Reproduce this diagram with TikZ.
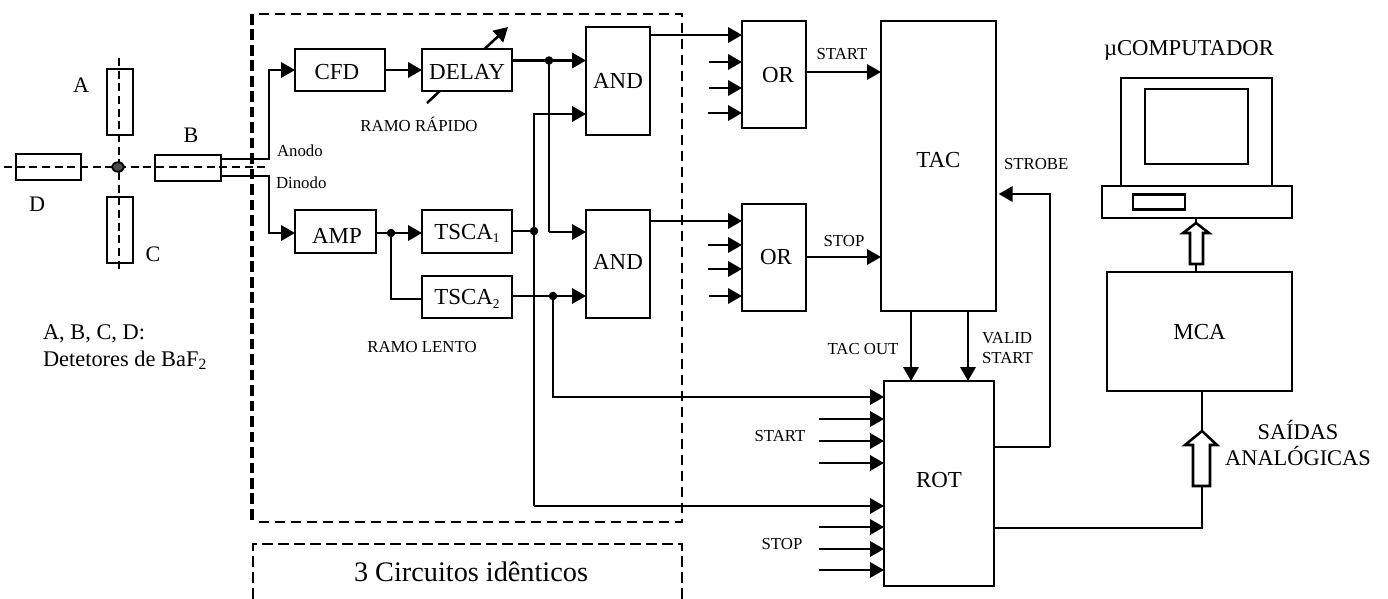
\documentclass[tikz,border=0pt]{standalone}
\usepackage{fontspec}
\setmainfont{Liberation Serif}
\usetikzlibrary{arrows.meta,calc,shapes.geometric}
\newcommand\mybox[8]{%
  \pgfmathsetmacro\myHa{max(#6,0)*1.5}%
  \pgfmathsetmacro\myHb{max(-(#6),0)*1.5}%
  \pgfmathsetmacro\myTh{11.4+max(#7,0)*1.5}%
  \pgfmathsetmacro\myTd{max(-(#7),0)*1.5}%
  \node[bloc,minimum width={(#4-#2)*0.75pt},minimum height={(#5-#3)*0.75pt},
        text height=\myTh pt,text depth=\myTd pt] (#1) at ({(#2+#4)/2},{(#3+#5)/2})
        {\hspace*{\myHa pt}#8\hspace*{\myHb pt}};}
\newcommand\mysub[1]{\raisebox{-2.6pt}{\fontsize{10}{10}\selectfont #1}}
\tikzset{
  bigfont/.style={font=\fontsize{17.2}{20}\selectfont},
  midfont/.style={font=\fontsize{16.6}{20}\selectfont},
  smallfont/.style={font=\fontsize{12.6}{15}\selectfont},
  bloc/.style={draw,line width=1.8pt,fill=white,inner sep=0pt,outer sep=0pt,bigfont,line join=miter},
  wire/.style={line width=1.9pt},
  arrowwire/.style={wire,-{Triangle[length=10.5pt,width=11.5pt]}},
  dot/.style={fill=black},
  frame/.style={line width=1.6pt,dash pattern=on 7.5pt off 4.5pt},
  frameleft/.style={line width=2.3pt,dash pattern=on 8pt off 3.6pt},
  thinframe/.style={line width=1.1pt,dash pattern=on 8pt off 4pt},
  axis/.style={line width=1.5pt,dash pattern=on 6pt off 3.5pt},
  txt/.style={inner sep=0pt,outer sep=0pt},
}
\begin{document}
\begin{tikzpicture}[x=0.75pt,y=-0.75pt]
\useasboundingbox (0,0) rectangle (1388,599);
% dashed frames
\draw[frame] (259,14) -- (682,14) -- (682,522) -- (259,522);
\draw[frameleft] (252,14) -- (252,522);
\draw[thinframe] (253,599) -- (253,544) -- (682,544) -- (682,599);
% named coordinates
\coordinate (axT) at (119,58); \coordinate (axB) at (119,273);
\coordinate (axL) at (4,167.5); \coordinate (axR) at (270,167.5);
\coordinate (aS) at (221,159); \coordinate (aK) at (269,159);
\coordinate (dS) at (221,176); \coordinate (dK) at (269,176);
\coordinate (dlA) at (427,103); \coordinate (dlB) at (508,27);
\draw[arrowwire] (dlA) -- (dlB);
% detectors
\mybox{detA}{107}{69}{133}{135}{0}{0}{}
\mybox{detC}{107}{197}{133}{263}{0}{0}{}
\mybox{detD}{16}{154}{81}{180}{0}{0}{}
\mybox{detB}{155}{155}{221}{181}{0}{0}{}
\draw[axis] (axT) -- (axB);
\draw[axis] (axL) -- (axR);
\node[draw=black,fill=black!70,line width=1.4pt,ellipse,minimum width=9pt,minimum height=7pt,inner sep=0pt] (src) at (118,167) {};
% blocks
\mybox{cfd}{295}{49}{385}{91}{-3}{2}{CFD}
\mybox{delay}{422}{49}{512}{91}{0}{2}{DELAY}
\mybox{and1}{586}{27}{650}{135}{0}{0}{AND}
\mybox{and2}{586}{210}{650}{318}{0}{-2}{AND}
\mybox{amp}{295}{210}{376}{253}{1.5}{4.5}{AMP}
\mybox{tsca1}{422}{210}{512}{253}{0}{0}{TSCA\mysub{1}}
\mybox{tsca2}{422}{276}{512}{318}{0}{0}{TSCA\mysub{2}}
\mybox{or1}{742}{21}{806}{128}{4}{0}{OR}
\mybox{or2}{742}{204}{806}{311}{2}{-1}{OR}
\mybox{tac}{881}{21}{996}{311}{0}{-6}{TAC}
\mybox{rot}{884}{381}{994}{586}{0}{-4}{ROT}
\mybox{mca}{1107}{272}{1292}{391}{0}{0}{MCA}
\mybox{monitor}{1121}{78}{1272}{186}{0}{0}{}
\mybox{screen}{1145}{89}{1248}{164}{0}{0}{}
\mybox{base}{1102}{186}{1292}{218}{0}{0}{}
\mybox{slot}{1133}{196}{1185}{208}{0}{0}{}
% junctions
\coordinate (dOut) at (512,60.5); \coordinate (j1) at (549,60.5);
\coordinate (j1b) at (549,232);
\coordinate (t1Out) at (512,231); \coordinate (j2) at (534,231);
\coordinate (k2top) at (534,114); \coordinate (k2bot) at (534,506);
\coordinate (t2Out) at (512,296); \coordinate (j3) at (553,296); \coordinate (k3bot) at (553,397);
\coordinate (ampOut) at (376,233); \coordinate (j4) at (391,233); \coordinate (k4) at (391,299);
\coordinate (a1o) at (650,35); \coordinate (a2o) at (650,221);
\coordinate (o1o) at (806,72); \coordinate (o2o) at (806,257);
\coordinate (tOut) at (911,311); \coordinate (tVal) at (968,311);
\coordinate (rA) at (994,447); \coordinate (rK) at (1050,447); \coordinate (rK2) at (1050,194);
\coordinate (rB) at (994,528); \coordinate (rK3) at (1202,528);
% connectors
\draw[arrowwire] (aS) -- (aK) |- (cfd.west);
\draw[arrowwire] (dS) -- (dK) |- (amp.west |- ampOut);
\draw[arrowwire] (cfd.east) -- (delay.west);
\draw[arrowwire] (dOut) -- (and1.west |- dOut);
\draw[wire] (j1) -- (j1b);
\draw[arrowwire] (j1b) -- (and2.west |- j1b);
\draw[arrowwire] (k2bot) -- (k2top) -- (and1.west |- k2top);
\draw[wire] (t1Out) -- (j2);
\draw[arrowwire] (k2bot) -- (rot.west |- k2bot);
\draw[arrowwire] (t2Out) -- (and2.west |- t2Out);
\draw[arrowwire] (j3) -- (k3bot) -- (rot.west |- k3bot);
\draw[arrowwire] (ampOut) -- (tsca1.west |- ampOut);
\draw[wire] (j4) -- (k4) -- (tsca2.west |- k4);
\draw[arrowwire] (a1o) -- (or1.west |- a1o);
\draw[arrowwire] (a2o) -- (or2.west |- a2o);
\draw[arrowwire] (o1o) -- (tac.west |- o1o);
\draw[arrowwire] (o2o) -- (tac.west |- o2o);
\draw[arrowwire] (tOut) -- (rot.north -| tOut);
\draw[arrowwire] (tVal) -- (rot.north -| tVal);
\draw[wire] (rA) -- (rK);
\draw[arrowwire] (rK) -- (rK2) -- ([xshift=2pt]tac.east |- rK2);
% input stubs
\foreach \n/\sx/\sy in {a/709/62,b/709/88,c/708/113}{
  \coordinate (s\n) at (\sx,\sy);
  \draw[arrowwire] (s\n) -- (or1.west |- s\n);}
\foreach \n/\sx/\sy in {d/708/245,e/708/269,f/709/296}{
  \coordinate (s\n) at (\sx,\sy);
  \draw[arrowwire] (s\n) -- (or2.west |- s\n);}
\foreach \n/\sy in {g/419,h/441,i/463,j/527,k/549,l/570}{
  \coordinate (s\n) at (819,\sy);
  \draw[arrowwire] (s\n) -- (rot.west |- s\n);}
% dots
\foreach \p in {j1,j2,j3,j4}{\fill[dot] (\p) circle (3.2pt);}
% hollow arrows
\coordinate (h1a) at (1196,272); \coordinate (h1b) at (1196,264);
\coordinate (h1c) at (1196,223); \coordinate (h1d) at (1196,218);
\draw[wire] (h1a) -- (h1b);
\draw[wire] (h1c) -- (h1d);
\draw[wire,line join=miter] (1190,264) -- (1203,264) -- (1203,233) -- (1209,233) -- (h1c) -- (1183,233) -- (1190,233) -- cycle;
\coordinate (h2a) at (1202,391); \coordinate (h2b) at (1202,431);
\coordinate (h2c) at (1202,486);
\draw[wire] (h2a) -- (h2b);
\draw[wire] (rB) -- (rK3) -- (h2c);
\draw[wire,line join=miter] (1193,486) -- (1210,486) -- (1210,445) -- (1217,445) -- (h2b) -- (1185,445) -- (1193,445) -- cycle;
% labels
\node[txt,midfont] (lA) at (81,85) {A};
\node[txt,midfont] (lB) at (191,135) {B};
\node[txt,midfont] (lC) at (153,254) {C};
\node[txt,midfont] (lD) at (37,204) {D};
\node[txt,smallfont,anchor=west] (lAn) at (277,151) {Anodo};
\node[txt,smallfont,anchor=west] (lDi) at (276,183) {Dinodo};
\node[txt,smallfont] (lRR) at (419,124) {RAMO RÁPIDO};
\node[txt,smallfont] (lRL) at (422,347) {RAMO LENTO};
\node[txt,smallfont] (lSt1) at (842,54) {START};
\node[txt,smallfont] (lSp1) at (844,241) {STOP};
\node[txt,smallfont,anchor=west] (lStr) at (1004,164) {STROBE};
\node[txt,smallfont] (lTO) at (863,349) {TAC OUT};
\node[txt,smallfont,anchor=west,align=left] (lVS) at (982,348) {VALID\\START};
\node[txt,smallfont] (lSt2) at (780,436) {START};
\node[txt,smallfont] (lSp2) at (782,544) {STOP};
\node[txt,font=\fontsize{16.8}{20}\selectfont,anchor=west,align=left] (lDet) at (43,347) {A, B, C, D:\\Detetores de BaF\textsubscript{2}};
\node[txt,font=\fontsize{17}{20}\selectfont] (lMu) at (1189,50) {µCOMPUTADOR};
\node[txt,font=\fontsize{16.8}{20}\selectfont,align=center] (lSA) at (1298,443) {SAÍDAS\\ANALÓGICAS};
\node[txt,font=\fontsize{21.2}{25}\selectfont] (l3) at (471,572) {3 Circuitos idênticos};
\end{tikzpicture}
\end{document}
